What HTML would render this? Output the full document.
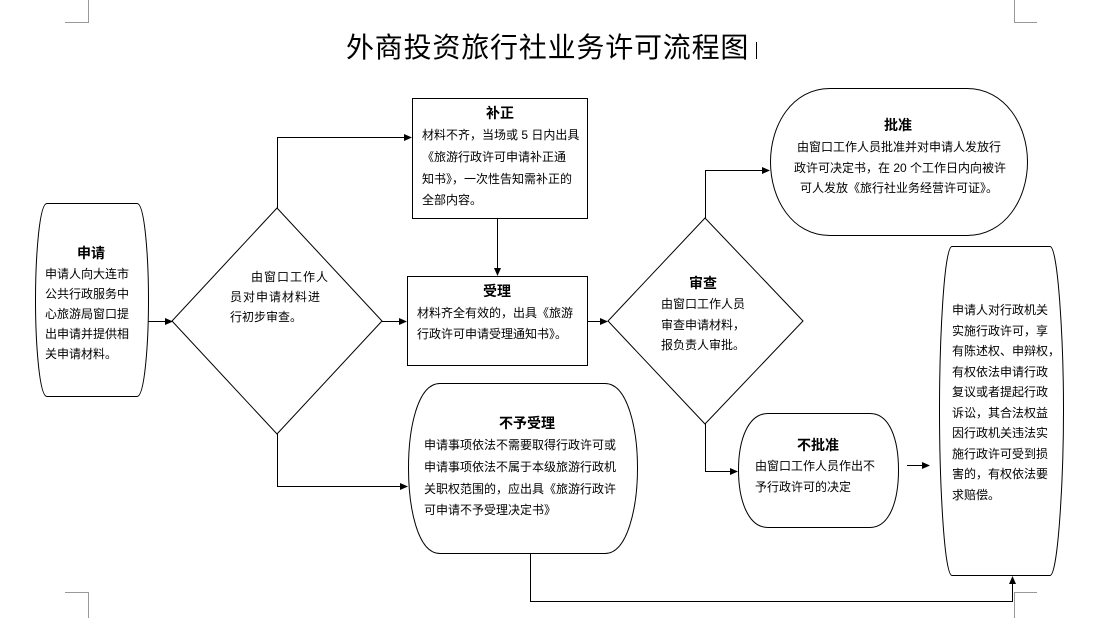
<!DOCTYPE html>
<html><head><meta charset="utf-8"><style>
html,body{margin:0;padding:0;background:#fff;}
svg{display:block;}
text{font-family:"Liberation Sans","Noto Sans CJK SC","WenQuanYi Zen Hei",sans-serif;font-size:12px;fill:#000;}
.b{font-weight:bold;font-size:14px;}
</style></head><body>
<svg width="1099" height="618" viewBox="0 0 1099 618" xmlns="http://www.w3.org/2000/svg">
<defs><marker id="a" markerWidth="8" markerHeight="8" refX="7" refY="4" orient="auto" markerUnits="userSpaceOnUse"><path d="M0,0.5 L8,4 L0,7.5 z" fill="#000"/></marker></defs>
<g stroke="#999" fill="none" stroke-width="1">
<path d="M88.5,0 V22.5 H65"/><path d="M1014.5,0 V22.5 H1037"/>
<path d="M65,592.5 H88.5 V618"/><path d="M1037,592.5 H1014.5 V618"/>
</g>
<text x="346" y="57" style="font-size:28px;letter-spacing:0.8px">外商投资旅行社业务许可流程图</text>
<line x1="756.5" y1="42" x2="756.5" y2="59" stroke="#000" stroke-width="1"/>
<g stroke="#000" fill="#fff" stroke-width="1">
<path d="M47,203.5 H137 C145,203.5 148.5,260 148.5,300 C148.5,340 145,396.5 137,396.5 H47 C39,396.5 35.5,340 35.5,300 C35.5,260 39,203.5 47,203.5 Z"/>
<path d="M277,208 L382,321 L277,434 L172,321 Z"/>
<rect x="412.5" y="98.5" width="175" height="120"/>
<rect x="407.5" y="276.5" width="180" height="89"/>
<path d="M440,383.5 H605 C628,383.5 637.5,430 637.5,468 C637.5,506 628,553.5 605,553.5 H440 C417,553.5 408.5,506 408.5,468 C408.5,430 417,383.5 440,383.5 Z"/>
<path d="M705,218 L803,321 L705,424 L608,321 Z"/>
<path d="M830,88.5 H967 C1005,88.5 1027.5,125 1027.5,162 C1027.5,199 1005,235.5 967,235.5 H830 C792,235.5 770.5,199 770.5,162 C770.5,125 792,88.5 830,88.5 Z"/>
<path d="M768,413.5 H870 C890,413.5 898.5,440 898.5,470 C898.5,500 890,527.5 870,527.5 H768 C748,527.5 738.5,500 738.5,470 C738.5,440 748,413.5 768,413.5 Z"/>
<path d="M952,246.5 H1050 C1058,246.5 1063.5,340 1063.5,410 C1063.5,480 1058,575.5 1050,575.5 H952 C944,575.5 939.5,480 939.5,410 C939.5,340 944,246.5 952,246.5 Z"/>
</g>
<g stroke="#000" fill="none" stroke-width="1" marker-end="url(#a)">
<path d="M148,321.5 H172"/>
<path d="M277.5,208 V137.5 H411"/>
<path d="M497.5,218 V275"/>
<path d="M382,321.5 H406"/>
<path d="M277.5,434 V486.5 H407"/>
<path d="M587,321.5 H607"/>
<path d="M705.5,218 V170.5 H769"/>
<path d="M705.5,424 V471.5 H737"/>
<path d="M907,465.5 H929"/>
<path d="M530.5,553 V601.5 H1012.5 V577"/>
</g>
<text class="b" x="91" y="258" text-anchor="middle">申请</text>
<text x="45" y="278">申请人向大连市</text>
<text x="45" y="298">公共行政服务中</text>
<text x="45" y="318">心旅游局窗口提</text>
<text x="45" y="338">出申请并提供相</text>
<text x="45" y="358">关申请材料。</text>
<text x="251" y="281" style="letter-spacing:1px">由窗口工作人</text>
<text x="230" y="301" style="letter-spacing:1px">员对申请材料进</text>
<text x="230" y="321">行初步审查。</text>
<text class="b" x="500" y="118" text-anchor="middle">补正</text>
<text x="422" y="139">材料不齐，当场或 5 日内出具</text>
<text x="422" y="161">《旅游行政许可申请补正通</text>
<text x="422" y="183">知书》，一次性告知需补正的</text>
<text x="422" y="204">全部内容。</text>
<text class="b" x="497" y="296" text-anchor="middle">受理</text>
<text x="417" y="317">材料齐全有效的，出具《旅游</text>
<text x="417" y="338">行政许可申请受理通知书》。</text>
<text class="b" x="703" y="288" text-anchor="middle">审查</text>
<text x="661" y="308">由窗口工作人员</text>
<text x="661" y="329">审查申请材料，</text>
<text x="661" y="349">报负责人审批。</text>
<text class="b" x="898" y="130" text-anchor="middle">批准</text>
<text x="797" y="151">由窗口工作人员批准并对申请人发放行</text>
<text x="794" y="172">政许可决定书，在 20 个工作日内向被许</text>
<text x="800" y="192">可人发放《旅行社业务经营许可证》。</text>
<text class="b" x="527" y="428" text-anchor="middle">不予受理</text>
<text x="424" y="449">申请事项依法不需要取得行政许可或</text>
<text x="424" y="471">申请事项依法不属于本级旅游行政机</text>
<text x="424" y="493">关职权范围的，应出具《旅游行政许</text>
<text x="424" y="514">可申请不予受理决定书》</text>
<text class="b" x="818" y="450" text-anchor="middle">不批准</text>
<text x="755" y="470">由窗口工作人员作出不</text>
<text x="755" y="491">予行政许可的决定</text>
<text x="952" y="314">申请人对行政机关</text>
<text x="952" y="335">实施行政许可，享</text>
<text x="952" y="355">有陈述权、申辩权，</text>
<text x="952" y="376">有权依法申请行政</text>
<text x="952" y="396">复议或者提起行政</text>
<text x="952" y="417">诉讼，其合法权益</text>
<text x="952" y="437">因行政机关违法实</text>
<text x="952" y="458">施行政许可受到损</text>
<text x="952" y="478">害的，有权依法要</text>
<text x="952" y="499">求赔偿。</text>
</svg>
</body></html>
